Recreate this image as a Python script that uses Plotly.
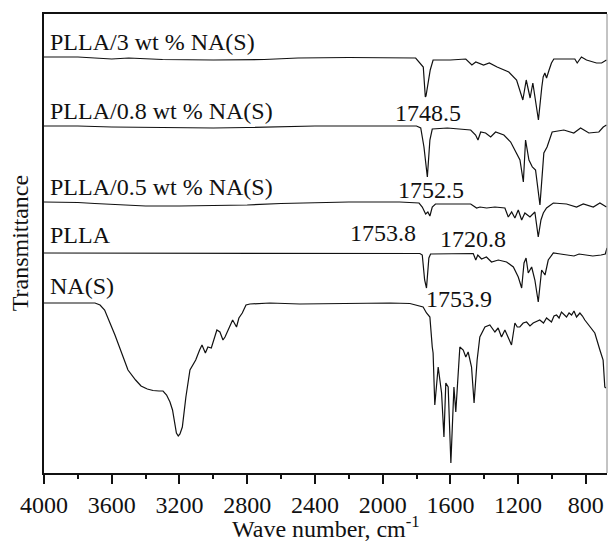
import plotly.graph_objects as go

# ---- data (wavenumber cm^-1, transmittance a.u., stacked) ----
wn_nas = [4000, 3846, 3699, 3669, 3642, 3581, 3528, 3504, 3459, 3427, 3390, 3356, 3321, 3297, 3276, 3256,
          3241, 3227, 3218, 3207, 3197, 3183, 3173, 3162, 3138, 3104, 3081, 3067, 3047, 3032, 3012, 2996,
          2979, 2961, 2943, 2931, 2920, 2908, 2886, 2863, 2849, 2829, 2807, 2784, 2666, 2489, 2311, 2134,
          1957, 1839, 1786, 1761, 1741, 1721, 1707, 1702, 1692, 1683, 1672, 1652, 1638, 1627, 1613, 1597,
          1579, 1568, 1554, 1544, 1524, 1509, 1495, 1475, 1460, 1442, 1426, 1396, 1367, 1337, 1318, 1298,
          1278, 1259, 1239, 1219, 1205, 1190, 1170, 1150, 1130, 1111, 1090, 1072, 1050, 1032, 1003, 988,
          973, 958, 944, 929, 914, 899, 884, 870, 855, 835, 820, 806, 776, 747, 717, 698, 688, 682]
t_nas = [170, 170, 170, 168, 163, 138, 113, 103, 93, 87, 84, 82.5, 82, 82, 78, 71,
         63, 48, 40, 37, 39, 46, 63, 76, 103, 113, 123, 128, 120, 126, 125, 133,
         143, 141, 133, 136, 140, 146, 153, 146, 155, 160, 168, 169, 170, 169, 169.5, 170,
         170, 169.5, 167, 166, 160, 156, 126, 120, 68, 83, 106, 80, 36, 90, 86, 10,
         86, 61, 96, 126, 123, 116, 121, 106, 70, 113, 136, 146, 148, 141, 145, 136,
         143, 135, 128, 150, 146, 146, 150, 151, 147, 150, 152, 153, 150, 155, 151, 157,
         158, 155, 161, 158, 156, 160, 158, 162, 156, 160, 157, 153, 146, 140, 123, 113, 86, 85]

wn_plla = [4000, 3900, 3700, 3400, 3000, 2600, 2200, 1900, 1780, 1766, 1752, 1741, 1727, 1717, 1600,
           1465, 1450, 1438, 1416, 1387, 1357, 1317, 1268, 1228, 1199, 1179, 1165, 1153, 1140, 1120,
           1101, 1081, 1061, 1041, 1022, 992, 950, 900, 870, 840, 800, 759, 710, 685, 675]
t_plla = [220, 220, 219.5, 220, 220, 220, 220, 220, 219.5, 218, 193, 185, 215, 219, 219.5,
          219.5, 213, 218, 214, 216, 211, 213, 211, 206, 196, 185, 210, 215, 200, 206,
          193, 171, 203, 198, 213, 220, 219, 218, 217, 219, 218, 217, 218, 219, 225]

wn_p05 = [4000, 3900, 3800, 3700, 3600, 3400, 3200, 3000, 2800, 2600, 2400, 2200, 1900, 1785, 1766,
          1746, 1733, 1721, 1707, 1688, 1600, 1480, 1445, 1425, 1386, 1337, 1278, 1258, 1238, 1219,
          1199, 1179, 1160, 1130, 1101, 1081, 1065, 1051, 1032, 992, 914, 855, 815, 756, 717, 678]
t_p05 = [271, 271, 270.5, 269.5, 268.5, 267, 267, 267.5, 268, 269.5, 270.5, 271, 271, 270, 266,
         259, 261, 257, 266, 269, 269, 269, 265, 266, 265, 266, 265, 256, 261, 255,
         263, 253, 260, 256, 261, 236, 253, 260, 265, 270, 269, 266, 269, 266, 270, 266]

wn_p08 = [4000, 3800, 3600, 3400, 3200, 3000, 2800, 2600, 2400, 2000, 1800, 1775, 1756, 1736, 1721,
          1707, 1618, 1480, 1451, 1437, 1421, 1392, 1362, 1333, 1284, 1244, 1215, 1189, 1169, 1156,
          1136, 1116, 1097, 1071, 1048, 1029, 999, 930, 871, 831, 782, 723, 697, 678]
t_p08 = [347, 347, 346, 345.5, 345, 345, 345.5, 346.5, 347, 347, 347, 345, 326, 296, 333,
         344, 345, 343, 338, 333, 341, 340, 336, 341, 338, 331, 321, 313, 291, 333,
         313, 306, 303, 268, 320, 326, 341, 343, 340, 345, 340, 341, 346, 348]

wn_p3 = [4000, 3800, 3600, 3500, 3300, 3000, 2700, 2500, 2200, 1900, 1805, 1760, 1748, 1744, 1719,
         1702, 1600, 1509, 1473, 1450, 1404, 1370, 1324, 1255, 1209, 1172, 1152, 1129, 1113, 1100,
         1080, 1060, 1052, 1042, 1032, 1017, 1003, 989, 865, 851, 826, 796, 776, 737, 707, 678]
t_p3 = [416, 416, 414, 415, 413.5, 413, 413.5, 415, 415.5, 415.5, 415, 406, 376, 377, 403,
        413, 413, 414, 408, 411, 408, 410, 406, 401, 393, 373, 393, 375, 390, 376,
        353, 386, 396, 400, 395, 403, 410, 414, 414, 410, 416, 413, 412, 410, 410, 413]

series = [
    ("NA(S)", wn_nas, t_nas),
    ("PLLA", wn_plla, t_plla),
    ("PLLA/0.5 wt % NA(S)", wn_p05, t_p05),
    ("PLLA/0.8 wt % NA(S)", wn_p08, t_p08),
    ("PLLA/3 wt % NA(S)", wn_p3, t_p3),
]

peak_labels = ["1748.5", "1752.5", "1753.8", "1720.8", "1753.9"]
peak_x = [1730, 1715, 1999, 1467, 1550]
peak_y = [360, 283, 240.5, 234.5, 174.5]

name_y = {"PLLA/3 wt % NA(S)": 431, "PLLA/0.8 wt % NA(S)": 362,
          "PLLA/0.5 wt % NA(S)": 286, "PLLA": 238, "NA(S)": 187}

FONT = "Liberation Serif"

fig = go.Figure()
for name, x, y in series:
    fig.add_trace(go.Scatter(x=x, y=y, mode="lines", name=name,
                             line=dict(color="#111111", width=1.2), showlegend=False))

ann = []
for name, _, _ in series:
    ann.append(dict(x=3976, y=name_y[name], xref="x", yref="y", text=name, showarrow=False,
                    xanchor="left", yanchor="middle", font=dict(family=FONT, size=24, color="#111")))
for t, x, y in zip(peak_labels, peak_x, peak_y):
    ann.append(dict(x=x, y=y, xref="x", yref="y", text=t, showarrow=False,
                    xanchor="center", yanchor="middle", font=dict(family=FONT, size=24, color="#111")))
ann.append(dict(x=-0.043, y=0.5, xref="paper", yref="paper", text="Transmittance", textangle=-90,
                showarrow=False, xanchor="center", yanchor="middle",
                font=dict(family=FONT, size=24, color="#111")))
ann.append(dict(x=0.5, y=-0.117, xref="paper", yref="paper", text="Wave number, cm<sup>-1</sup>",
                showarrow=False, xanchor="center", yanchor="middle",
                font=dict(family=FONT, size=24, color="#111")))

fig.update_layout(
    width=608, height=543,
    margin=dict(l=44, r=1, t=14, b=70),
    paper_bgcolor="white", plot_bgcolor="white",
    font=dict(family=FONT, color="#111"),
    annotations=ann,
    shapes=[dict(type="line", xref="paper", yref="paper", x0=1, x1=1, y0=0, y1=1,
                 line=dict(color="#888888", width=1))],
    xaxis=dict(range=[4000, 675], tick0=0, dtick=400, ticks="outside", ticklen=9, tickwidth=2,
               tickcolor="#111", showline=True, linewidth=2, linecolor="#111", mirror=True,
               showgrid=False, zeroline=False,
               tickfont=dict(family=FONT, size=24, color="#111"),
               minor=dict(dtick=200, tick0=0, ticks="outside", ticklen=4, tickwidth=2, tickcolor="#111")),
    yaxis=dict(range=[0, 459], showticklabels=False, ticks="", showline=True, linewidth=2,
               linecolor="#111", showgrid=False, zeroline=False),
)

fig.write_html("out.html")
